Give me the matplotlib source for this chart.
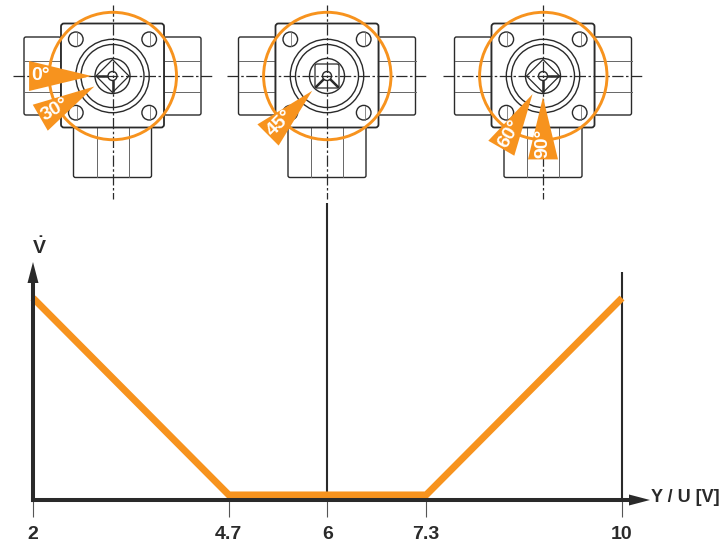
import numpy as np
import matplotlib
matplotlib.use("Agg")
import matplotlib.pyplot as plt
from matplotlib.patches import Circle, FancyBboxPatch, Polygon

# ---- chart data ----
signal = [2, 4.66, 7.34, 10]
flow = [1.0, 0.025, 0.025, 1.0]
tick_values = [2, 4.66, 6, 7.34, 10]
tick_labels = ["2", "4.7", "6", "7.3", "10"]
guide_values = [6, 10]
guide_tops = [1.47, 1.13]
x_label = "Y / U [V]"
y_label = r"$\mathbf{\dot{V}}$"

# ---- valve positions data ----
valve_angles = [[0, 30], [45], [60, 90]]
valve_stems = [[180, 270], [225, 315], [0, 270]]

ORANGE = "#F7931E"
DARK = "#2A2A2A"
W, H = 724, 547
FONT = "Liberation Sans"

plt.rcParams["mathtext.fontset"] = "custom"
plt.rcParams["mathtext.bf"] = "Liberation Sans:bold"
plt.rcParams["mathtext.rm"] = "Liberation Sans"

fig = plt.figure(figsize=(W / 100, H / 100), dpi=100, facecolor="white")

# ---- chart axes -------------------------------------------------------
x0, x1, y_base, y_top = 33, 630, 500, 282
ax = fig.add_axes([x0 / W, 1 - y_base / H, (x1 - x0) / W, (y_base - y_top) / H])
ax.set_xlim(2, 10 + 8 / 73.6)
ax.set_ylim(0, (y_base - y_top) / 202)
ax.patch.set_alpha(0)
for s in ("top", "right"):
    ax.spines[s].set_visible(False)
for s in ("left", "bottom"):
    ax.spines[s].set_linewidth(2.9)
    ax.spines[s].set_color(DARK)
    ax.spines[s].set_zorder(6)
ax.set_yticks([])
ax.set_xticks(tick_values)
ax.set_xticklabels(tick_labels, fontfamily=FONT, fontweight="bold", fontsize=14, color=DARK)
ax.tick_params(axis="x", length=12, width=0.8, color="#555555", pad=6.5)

ax.vlines(guide_values, 0, guide_tops, colors=DARK, linewidth=1.5, clip_on=False, zorder=2)
ax.plot(signal, flow, color=ORANGE, linewidth=5.0, solid_joinstyle="miter",
        solid_capstyle="butt", clip_on=False, zorder=4)

# ---- overlay in pixel coordinates ------------------------------------
ov = fig.add_axes([0, 0, 1, 1])
ov.set_xlim(0, W)
ov.set_ylim(H, 0)
ov.axis("off")
ov.patch.set_alpha(0)

ov.add_patch(Polygon([[33, 262], [27.5, 283], [38.5, 283]], closed=True, fc=DARK, ec="none", zorder=7))
ov.add_patch(Polygon([[650, 500], [629, 494.5], [629, 505.5]], closed=True, fc=DARK, ec="none", zorder=7))
ov.text(39, 247, y_label, fontsize=14, color=DARK, ha="center", va="center")
ov.text(685, 498, x_label, fontfamily=FONT, fontweight="bold", fontsize=13, color=DARK,
        ha="center", va="center")


def valve(cx, cy, angles, stems, square):
    lw = 1.0
    kw = dict(fc="none", ec=DARK, lw=lw, zorder=2)
    # side ports
    for sx in (-1, 1):
        xa, xb = sorted((cx + sx * 51.5, cx + sx * 88.5))
        ov.add_patch(FancyBboxPatch((xa, cy - 39), xb - xa, 78,
                                    boxstyle="round,pad=0,rounding_size=2", **kw))
        ov.plot([xa, xb], [cy - 15.5, cy - 15.5], color="#666666", lw=0.7, zorder=2)
        ov.plot([xa, xb], [cy + 16, cy + 16], color="#666666", lw=0.7, zorder=2)
    # bottom port
    ov.add_patch(FancyBboxPatch((cx - 39, cy + 51), 78, 50.5,
                                boxstyle="round,pad=0,rounding_size=2", **kw))
    for dx in (-16, 16):
        ov.plot([cx + dx, cx + dx], [cy + 51, cy + 101], color="#666666", lw=0.7, zorder=2)
    # flange
    ov.add_patch(FancyBboxPatch((cx - 51.5, cy - 52.5), 103, 104,
                                boxstyle="round,pad=0,rounding_size=3",
                                fc="white", ec=DARK, lw=1.3, zorder=3))
    # bolts
    for dx in (-36.7, 36.7):
        for dy in (-36.7, 36.7):
            ov.add_patch(Circle((cx + dx, cy + dy), 7.3, fc="white", ec=DARK, lw=lw, zorder=4))
            ov.plot([cx + dx + 1] * 2, [cy + dy - 7, cy + dy + 7], color="#777777", lw=0.6, zorder=4)
    # rings
    for r in (36.7, 31.5):
        ov.add_patch(Circle((cx, cy), r, fc="white", ec=DARK, lw=lw, zorder=4))
    ov.add_patch(Circle((cx, cy), 17.5, fc="none", ec=DARK, lw=lw, zorder=4))
    if square:
        ov.add_patch(FancyBboxPatch((cx - 12, cy - 12), 24, 24,
                                    boxstyle="round,pad=0,rounding_size=2",
                                    fc="none", ec=DARK, lw=0.9, zorder=4))
    else:
        ov.add_patch(Polygon([[cx - 16.5, cy], [cx, cy - 16.5], [cx + 16.5, cy], [cx, cy + 16.5]],
                             closed=True, fc="none", ec=DARK, lw=0.9, zorder=4))
    for a in stems:
        t = np.radians(a)
        ov.plot([cx + 4.5 * np.cos(t), cx + 15 * np.cos(t)],
                [cy - 4.5 * np.sin(t), cy - 15 * np.sin(t)],
                color=DARK, lw=1.8, zorder=5)
    ov.add_patch(Circle((cx, cy), 4.5, fc="white", ec=DARK, lw=lw, zorder=5))
    # centre lines
    ov.plot([cx - 100, cx + 100], [cy, cy], color=DARK, lw=0.9, dashes=(9, 2, 2, 2), zorder=5)
    ov.plot([cx, cx], [cy - 71, cy + 123], color=DARK, lw=0.9, dashes=(9, 2, 2, 2), zorder=5)
    # orange ring
    ov.add_patch(Circle((cx + 0.3, cy), 63.7, fc="none", ec=ORANGE, lw=2.1, zorder=6))
    # pointers
    for ang in angles:
        t = np.radians(ang)
        d = np.array([-np.cos(t), np.sin(t)])
        p = np.array([d[1], -d[0]])
        c = np.array([cx, cy])
        tip = c + 21 * d
        b = c + 83.4 * d
        ov.add_patch(Polygon([tip, b + 15 * p, b - 15 * p], closed=True, fc=ORANGE, ec="none", zorder=7))
        lab = c + 81.5 * d
        ov.text(lab[0], lab[1], f"{ang}°", color="white", fontfamily=FONT, fontweight="bold",
                fontsize=14, rotation=ang, rotation_mode="anchor",
                ha="left", va="center", zorder=8)


for cx, angs, stems, sq in zip((112.5, 327, 543), valve_angles, valve_stems, (False, True, False)):
    valve(cx, 76, angs, stems, sq)

fig.savefig("out.png", dpi=100, facecolor="white")
